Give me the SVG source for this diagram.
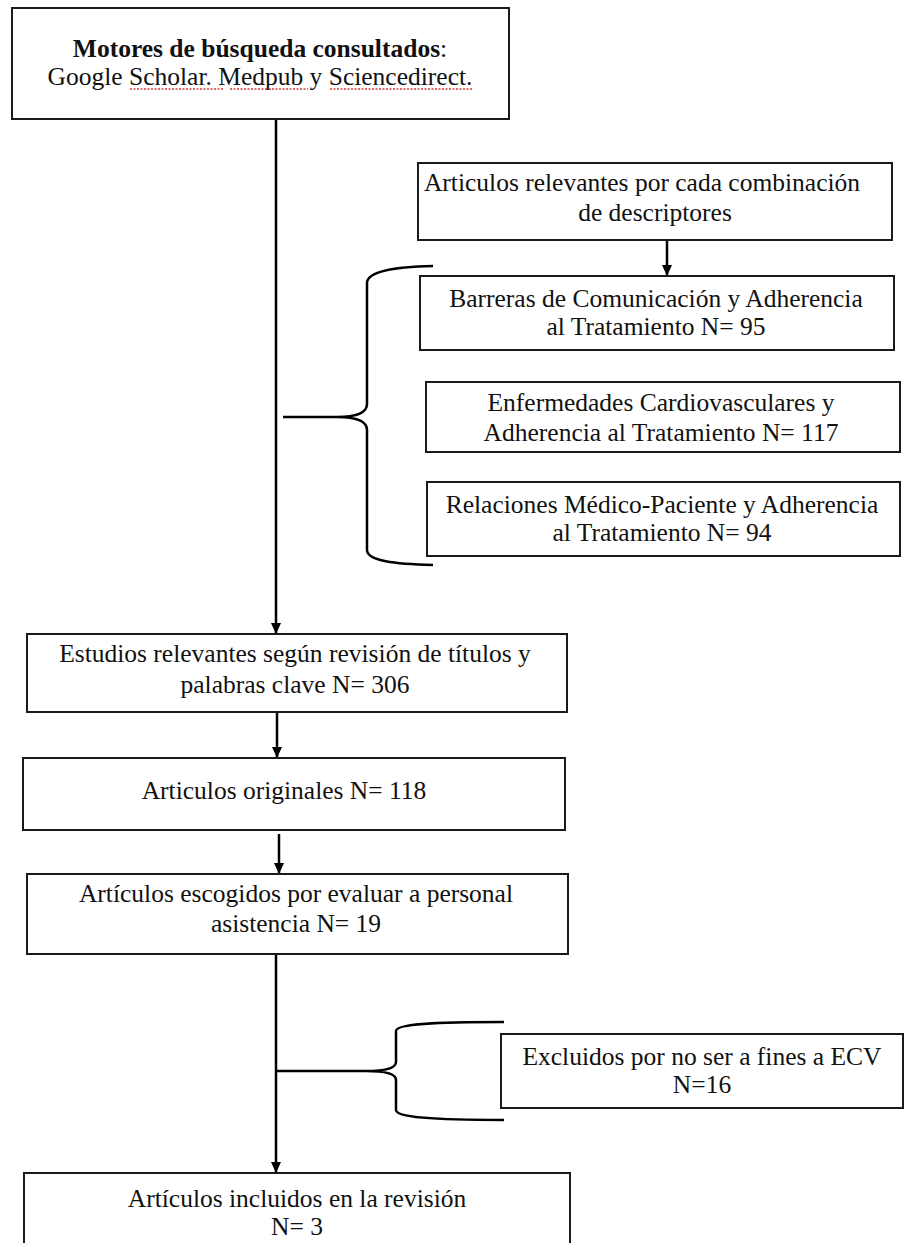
<svg xmlns="http://www.w3.org/2000/svg" width="904" height="1243" viewBox="0 0 904 1243">
<style>
.box{fill:#fff;stroke:#1a1a1a;stroke-width:2}
.t{font-family:"Liberation Serif","Times New Roman",serif;font-size:25.5px;fill:#111;text-anchor:middle}
.b{font-weight:bold}
.ln{fill:none;stroke:#000;stroke-width:2.5}
.sq{fill:none;stroke:#d23a3a;stroke-width:1.4;stroke-dasharray:2 1.5}
</style>
<defs>
<marker id="arr" markerUnits="userSpaceOnUse" markerWidth="10" markerHeight="11" viewBox="0 0 10 11" refX="5" refY="11" orient="0">
<path d="M0,0 L10,0 L5,11 Z" fill="#000"/>
</marker>
</defs>
<rect width="904" height="1243" fill="#fff"/>

<g id="connectors">
<line class="ln" x1="276" y1="119" x2="276" y2="634" marker-end="url(#arr)"/>
<line class="ln" x1="667" y1="240" x2="667" y2="276" marker-end="url(#arr)"/>
<line class="ln" x1="277" y1="712" x2="277" y2="758" marker-end="url(#arr)"/>
<line class="ln" x1="279" y1="834" x2="279" y2="874" marker-end="url(#arr)"/>
<line class="ln" x1="276" y1="954" x2="276" y2="1173" marker-end="url(#arr)"/>
<path class="ln" d="M283,417 L337,417 C355,417 367,414 367,404 L367,283 C367,271 395,267 433,266 M337,417 C355,417 367,420 367,430 L367,550 C367,561 395,564 433,565"/>
<path class="ln" d="M276,1071 L366,1071 C386,1071 396,1068 396,1062 L396,1031 C396,1024 430,1022 504,1022 M366,1071 C386,1071 396,1074 396,1080 L396,1110 C396,1117 430,1120 504,1120"/>
</g>

<g id="n1">
<rect class="box" x="12" y="8" width="497" height="111"/>
<text class="t" x="260" y="57"><tspan class="b">Motores de búsqueda consultados</tspan>:</text>
<text class="t" x="260" y="85">Google Scholar. Medpub y Sciencedirect.</text>
<line class="sq" x1="130" y1="89" x2="223" y2="89"/>
<line class="sq" x1="230" y1="89" x2="308" y2="89"/>
<line class="sq" x1="330" y1="89" x2="472" y2="89"/>
</g>

<g id="n2">
<rect class="box" x="418" y="163" width="474" height="77"/>
<text class="t" x="642" y="191">Articulos relevantes por cada combinación</text>
<text class="t" x="655" y="221">de descriptores</text>
</g>

<g id="n3">
<rect class="box" x="420" y="276" width="474" height="74"/>
<text class="t" x="656" y="307">Barreras de Comunicación y Adherencia</text>
<text class="t" x="656" y="335">al Tratamiento N= 95</text>
</g>

<g id="n4">
<rect class="box" x="426" y="382" width="474" height="70"/>
<text class="t" x="661" y="411">Enfermedades Cardiovasculares y</text>
<text class="t" x="661" y="441">Adherencia al Tratamiento N= 117</text>
</g>

<g id="n5">
<rect class="box" x="427" y="482" width="473" height="74"/>
<text class="t" x="662" y="513">Relaciones Médico-Paciente y Adherencia</text>
<text class="t" x="662" y="541">al Tratamiento N= 94</text>
</g>

<g id="n6">
<rect class="box" x="27" y="634" width="540" height="78"/>
<text class="t" x="295" y="662">Estudios relevantes según revisión de títulos y</text>
<text class="t" x="295" y="693">palabras clave  N= 306</text>
</g>

<g id="n7">
<rect class="box" x="23" y="758" width="542" height="72"/>
<text class="t" x="284" y="799">Articulos originales N= 118</text>
</g>

<g id="n8">
<rect class="box" x="27" y="874" width="541" height="80"/>
<text class="t" x="296" y="902">Artículos escogidos por evaluar a personal</text>
<text class="t" x="296" y="932">asistencia N= 19</text>
</g>

<g id="n9">
<rect class="box" x="501" y="1034" width="402" height="74"/>
<text class="t" x="702" y="1065">Excluidos por no ser a fines a ECV</text>
<text class="t" x="702" y="1093">N=16</text>
</g>

<g id="n10">
<rect class="box" x="24" y="1173" width="546" height="80"/>
<text class="t" x="297" y="1207">Artículos incluidos en la revisión</text>
<text class="t" x="297" y="1235">N= 3</text>
</g>
</svg>
